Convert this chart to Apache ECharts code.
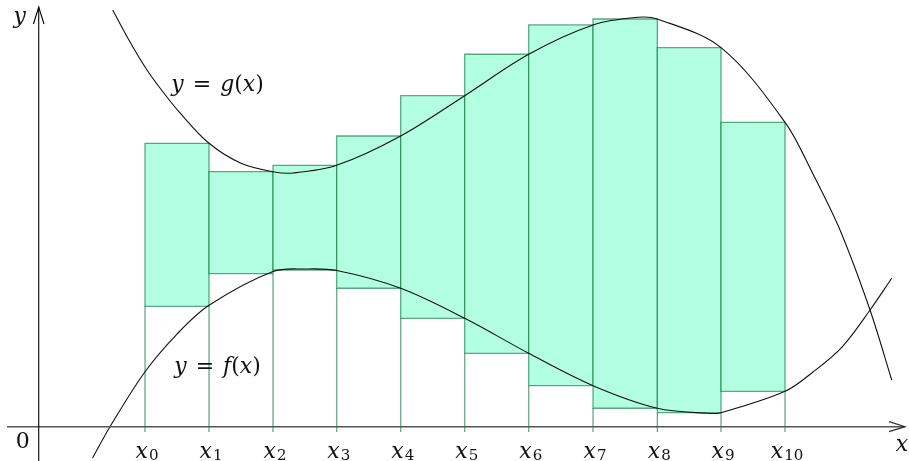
<!DOCTYPE html>
<html>
<head>
<meta charset="utf-8">
<script src="https://cdn.jsdelivr.net/npm/echarts@6/dist/echarts.min.js"></script>
<style>
html,body{margin:0;padding:0;background:#fff;}
#chart{width:909px;height:461px;}
</style>
</head>
<body>
<div id="chart"></div>
<script>
// Partition points x0..x10
var xs = [1.661, 2.661, 3.661, 4.656, 5.656, 6.656, 7.656, 8.661, 9.666, 10.661, 11.661];
var xLabels = ['0','1','2','3','4','5','6','7','8','9','10'];
// Rectangle tops (g at right endpoint) and bottoms (f at right endpoint)
var rectTops = [4.428, 3.984, 4.084, 4.542, 5.172, 5.819, 6.277, 6.370, 5.922, 4.756];
var rectBottoms = [1.881, 2.391, 2.448, 2.163, 1.694, 1.147, 0.641, 0.288, 0.219, 0.553];
// Curve y = g(x)
var gX = [1.156, 1.427, 1.692, 1.942, 2.208, 2.661, 3.161, 3.661, 3.973, 4.656, 5.656, 6.656, 7.656, 8.661, 9.364, 9.666, 10.661, 11.661, 12.098, 12.520, 12.989, 13.328];
var gY = [6.511, 6.011, 5.573, 5.230, 4.902, 4.428, 4.116, 3.984, 3.964, 4.084, 4.542, 5.172, 5.819, 6.277, 6.397, 6.370, 5.922, 4.756, 3.948, 3.073, 1.823, 0.730];
// Curve y = f(x)
var fX = [0.841, 1.114, 1.661, 2.161, 2.661, 3.661, 4.161, 4.656, 5.656, 6.656, 7.656, 8.661, 9.666, 10.442, 10.661, 11.661, 12.098, 12.551, 12.989, 13.328];
var fY = [-0.489, 0.0, 0.859, 1.448, 1.897, 2.425, 2.464, 2.441, 2.163, 1.694, 1.147, 0.641, 0.288, 0.209, 0.219, 0.553, 0.855, 1.245, 1.823, 2.319];

var chart = echarts.init(document.getElementById('chart'));

var rectData = rectTops.map(function (t, i) { return [xs[i], xs[i + 1], rectBottoms[i], t]; });
var tickData = xs.map(function (x, i) {
  var lims = [];
  if (i > 0) lims.push(rectBottoms[i - 1]);
  if (i < rectBottoms.length) lims.push(rectBottoms[i]);
  return [x, Math.min.apply(null, lims), i];
});

// smooth curve through points (chord-length Catmull-Rom), in pixel space from api.coord
function curvePath(api, X, Y) {
  var P = X.map(function (x, i) { return api.coord([x, Y[i]]); });
  var n = P.length;
  function d(a, b) { return Math.sqrt((a[0] - b[0]) * (a[0] - b[0]) + (a[1] - b[1]) * (a[1] - b[1])); }
  var T = P.map(function (p, i) {
    var a = P[Math.max(i - 1, 0)], b = P[Math.min(i + 1, n - 1)];
    var L = d(a, b) || 1;
    return [(b[0] - a[0]) / L, (b[1] - a[1]) / L];
  });
  var s = 'M' + P[0][0] + ' ' + P[0][1];
  for (var i = 0; i < n - 1; i++) {
    var l = d(P[i], P[i + 1]) / 3;
    s += ' C' + (P[i][0] + T[i][0] * l) + ' ' + (P[i][1] + T[i][1] * l) + ' ' +
      (P[i + 1][0] - T[i + 1][0] * l) + ' ' + (P[i + 1][1] - T[i + 1][1] * l) + ' ' +
      P[i + 1][0] + ' ' + P[i + 1][1];
  }
  return s;
}

var edge = 'rgba(0,110,55,0.6)';
var IT = 'italic 22px DejaVu Serif';
var UP = 'normal 22px DejaVu Serif';
var SUB = 'normal 15px DejaVu Serif';
var it = { font: IT, fontFamily: 'DejaVu Serif', fontStyle: 'italic', fontSize: 22, fill: '#111' };
var up = { font: UP, fontFamily: 'DejaVu Serif', fontStyle: 'normal', fontSize: 22, fill: '#111' };
var eq = { font: UP, fontFamily: 'DejaVu Serif', fontStyle: 'normal', fontSize: 22, fill: '#111', padding: [0, 9, 0, 9] };
var sub = { font: SUB, fontFamily: 'DejaVu Serif', fontStyle: 'normal', fontSize: 15, fill: '#111', padding: [9, 0, 0, 1] };

chart.setOption({
  animation: false,
  grid: { left: 0, right: 0, top: 0, bottom: 0 },
  xAxis: { type: 'value', min: -0.605, max: 13.598, show: false },
  yAxis: { type: 'value', min: -0.536, max: 6.667, show: false },
  series: [
    {
      type: 'custom', z: 2,
      data: rectData,
      renderItem: function (params, api) {
        var p1 = api.coord([api.value(0), api.value(3)]);
        var p2 = api.coord([api.value(1), api.value(2)]);
        return { type: 'rect', shape: { x: p1[0], y: p1[1], width: p2[0] - p1[0], height: p2[1] - p1[1] },
          style: { fill: '#b3ffe2', stroke: edge, lineWidth: 1.3 } };
      }
    },
    {
      type: 'custom', z: 3,
      data: tickData,
      renderItem: function (params, api) {
        var a = api.coord([api.value(0), -0.083]);
        var b = api.coord([api.value(0), api.value(1)]);
        var idx = api.value(2);
        return { type: 'group', children: [
          { type: 'line', shape: { x1: a[0], y1: a[1], x2: b[0], y2: b[1] }, style: { stroke: edge, lineWidth: 1.3 } },
          { type: 'text', x: a[0] + 2, y: a[1] + 20,
            style: { text: '{i|x}{s|' + xLabels[idx] + '}', rich: { i: it, s: sub }, align: 'center', verticalAlign: 'middle' } }
        ] };
      }
    },
    {
      type: 'custom', z: 5,
      data: [[gX[0], gY[0]]],
      renderItem: function (params, api) {
        return { type: 'path', shape: { pathData: curvePath(api, gX, gY) }, style: { stroke: '#111', lineWidth: 1.1, fill: null } };
      }
    },
    {
      type: 'custom', z: 5,
      data: [[fX[0], fY[0]]],
      renderItem: function (params, api) {
        return { type: 'path', shape: { pathData: curvePath(api, fX, fY) }, style: { stroke: '#111', lineWidth: 1.1, fill: null } };
      }
    },
    {
      type: 'custom', z: 6,
      data: [[0, 0]],
      renderItem: function (params, api) {
        var o = api.coord([0, 0]);
        var xa = api.coord([-0.495, 0]), xb = api.coord([13.536, 0]);
        var ya = api.coord([0, -0.536]), yb = api.coord([0, 6.558]);
        var gLab = api.coord([2.794, 5.34]);
        var fLab = api.coord([2.794, 0.93]);
        return { type: 'group', children: [
          { type: 'line', shape: { x1: xa[0], y1: xa[1], x2: xb[0], y2: xb[1] }, style: { stroke: '#555', lineWidth: 1.6 } },
          { type: 'polyline', shape: { points: [[xb[0] - 16, xb[1] - 5], [xb[0], xb[1]], [xb[0] - 16, xb[1] + 5]] }, style: { stroke: '#333', lineWidth: 1.2, fill: null } },
          { type: 'line', shape: { x1: ya[0], y1: ya[1], x2: yb[0], y2: yb[1] }, style: { stroke: '#000', lineWidth: 1.1 } },
          { type: 'polyline', shape: { points: [[yb[0] - 5.3, yb[1] + 17], [yb[0], yb[1]], [yb[0] + 5.3, yb[1] + 17]] }, style: { stroke: '#000', lineWidth: 1.1, fill: null } },
          { type: 'text', x: o[0] - 16, y: o[1] + 16, style: { text: '0', font: UP, fill: '#111', align: 'center', verticalAlign: 'middle' } },
          { type: 'text', x: yb[0] - 19, y: yb[1] + 10, style: { text: 'y', font: IT, fill: '#111', align: 'center', verticalAlign: 'middle' } },
          { type: 'text', x: xb[0] - 3, y: xb[1] + 19, style: { text: 'x', font: IT, fill: '#111', align: 'center', verticalAlign: 'middle' } },
          { type: 'text', x: gLab[0], y: gLab[1], style: { text: '{i|y}{e|=}{i|g}{n|(}{i|x}{n|)}', rich: { i: it, n: up, e: eq }, font: UP, align: 'center', verticalAlign: 'middle' } },
          { type: 'text', x: fLab[0], y: fLab[1], style: { text: '{i|y}{e|=}{i|f}{n|(}{i|x}{n|)}', rich: { i: it, n: up, e: eq }, font: UP, align: 'center', verticalAlign: 'middle' } }
        ] };
      }
    }
  ]
});
</script>
</body>
</html>
